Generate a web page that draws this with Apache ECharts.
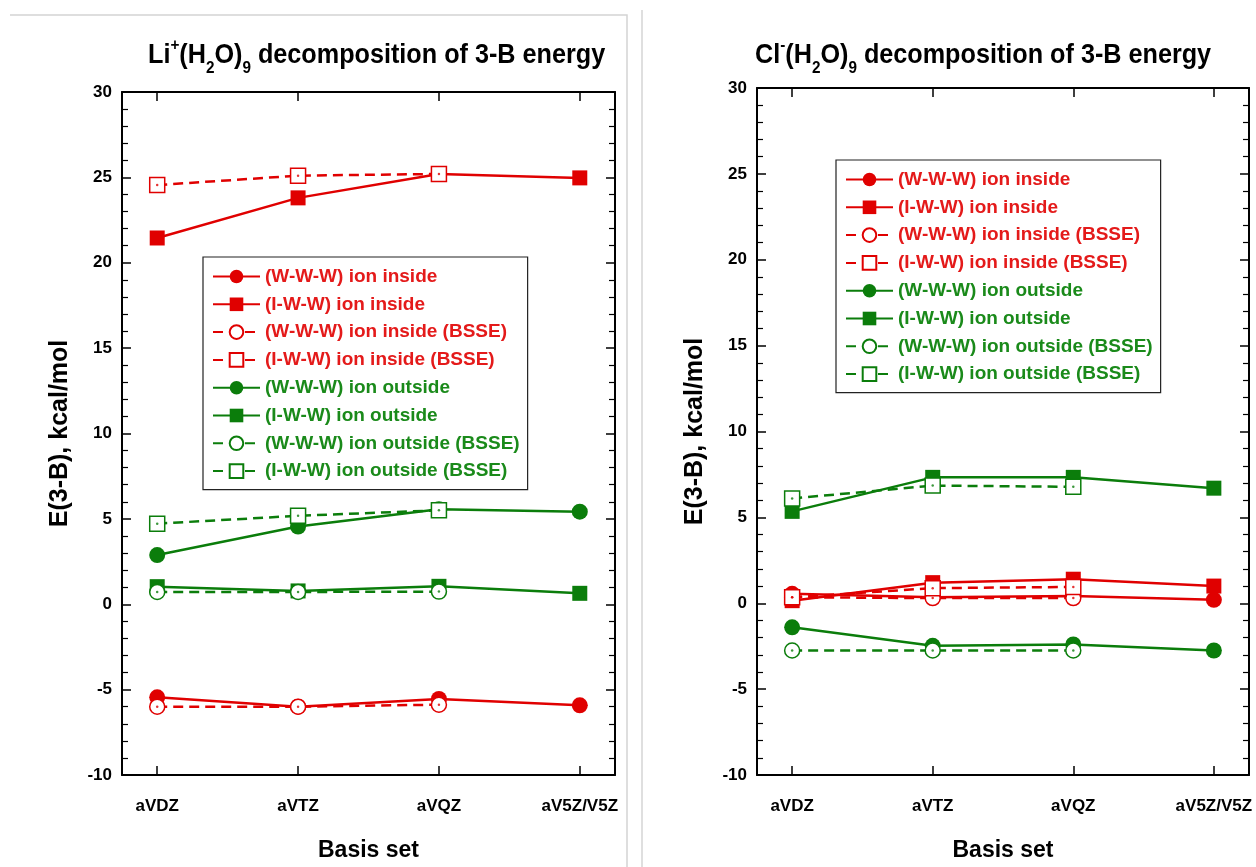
<!DOCTYPE html>
<html>
<head>
<meta charset="utf-8">
<script src="https://cdn.jsdelivr.net/npm/echarts@6/dist/echarts.min.js"></script>
<style>
  html, body { margin: 0; padding: 0; background: #fff; }
  #chart { width: 1256px; height: 867px; }
</style>
</head>
<body>
<div id="chart"></div>
<script>
// Basis sets along the x axis
const basisSets = ['aVDZ', 'aVTZ', 'aVQZ', 'aV5Z/V5Z'];
const yTicks = [-10, -5, 0, 5, 10, 15, 20, 25, 30];

// Series names (legend order)
const seriesNames = [
  '(W-W-W) ion inside',
  '(I-W-W) ion inside',
  '(W-W-W) ion inside (BSSE)',
  '(I-W-W) ion inside (BSSE)',
  '(W-W-W) ion outside',
  '(I-W-W) ion outside',
  '(W-W-W) ion outside (BSSE)',
  '(I-W-W) ion outside (BSSE)'
];

// Li+(H2O)9 three-body energies, kcal/mol
const liWWWin      = [-5.45, -6.0, -5.55, -5.92];
const liIWWin      = [21.45, 23.8, 25.2, 24.97];
const liWWWinBSSE  = [-6.0, -6.0, -5.88];
const liIWWinBSSE  = [24.55, 25.1, 25.2];
const liWWWout     = [2.88, 4.55, 5.57, 5.42];
const liIWWout     = [1.03, 0.78, 1.05, 0.64];
const liWWWoutBSSE = [0.72, 0.72, 0.74];
const liIWWoutBSSE = [4.72, 5.18, 5.5];

// Cl-(H2O)9 three-body energies, kcal/mol
const clWWWin      = [0.55, 0.35, 0.42, 0.2];
const clIWWin      = [0.15, 1.2, 1.4, 1.0];
const clWWWinBSSE  = [0.35, 0.3, 0.3];
const clIWWinBSSE  = [0.35, 0.88, 0.95];
const clWWWout     = [-1.4, -2.48, -2.4, -2.75];
const clIWWout     = [5.35, 7.33, 7.33, 6.7];
const clWWWoutBSSE = [-2.75, -2.75, -2.75];
const clIWWoutBSSE = [6.1, 6.85, 6.78];

const RED = '#e00000';
const GREEN = '#0b7d0b';
const RED_TXT = '#e41a1a';
const GREEN_TXT = '#1a8a1a';
const FONT = 'Liberation Sans, Arial, sans-serif';

const styles = [
  { color: RED,   symbol: 'circle', open: false },
  { color: RED,   symbol: 'rect',   open: false },
  { color: RED,   symbol: 'circle', open: true },
  { color: RED,   symbol: 'rect',   open: true },
  { color: GREEN, symbol: 'circle', open: false },
  { color: GREEN, symbol: 'rect',   open: false },
  { color: GREEN, symbol: 'circle', open: true },
  { color: GREEN, symbol: 'rect',   open: true }
];

const toPts = arr => arr.map((v, i) => [i, v]);

function panelSeries(sets, gi) {
  const out = [];
  sets.forEach((vals, k) => {
    const st = styles[k];
    out.push({
      name: seriesNames[k],
      type: 'line',
      xAxisIndex: gi * 2,
      yAxisIndex: gi * 2,
      data: toPts(vals),
      symbol: st.symbol,
      symbolSize: st.open ? 15 : (st.symbol === 'rect' ? 15 : 16),
      showAllSymbol: true,
      lineStyle: {
        color: st.color,
        width: 2.5,
        type: st.open ? [10, 6] : 'solid'
      },
      itemStyle: st.open
        ? { color: '#ffffff', borderColor: st.color, borderWidth: 1.5 }
        : { color: st.color, borderWidth: 0 },
      emphasis: { disabled: true },
      animation: false,
      z: 3 + k
    });
    if (st.open) {
      // small centre dot inside the hollow markers
      out.push({
        name: seriesNames[k] + ' dot',
        type: 'scatter',
        xAxisIndex: gi * 2,
        yAxisIndex: gi * 2,
        data: toPts(vals),
        symbol: 'circle',
        symbolSize: 2.5,
        itemStyle: { color: st.color },
        silent: true,
        animation: false,
        z: 20
      });
    }
  });
  return out;
}

const liSets = [liWWWin, liIWWin, liWWWinBSSE, liIWWinBSSE, liWWWout, liIWWout, liWWWoutBSSE, liIWWoutBSSE];
const clSets = [clWWWin, clIWWin, clWWWinBSSE, clIWWinBSSE, clWWWout, clIWWout, clWWWoutBSSE, clIWWoutBSSE];

const grids = [
  { left: 122, top: 92, width: 493, height: 692 },
  { left: 757, top: 88, width: 492, height: 692 }
];

const tickIdx = basisSets.map((_, i) => i);

function xAxes(gi) {
  const base = {
    type: 'value', gridIndex: gi, min: -0.25, max: 3.25,
    splitLine: { show: false },
    axisLine: { show: true, onZero: false, lineStyle: { color: '#000', width: 2 } }
  };
  return [
    Object.assign({}, base, {
      position: 'bottom',
      axisTick: { show: true, inside: true, length: 9, customValues: tickIdx, lineStyle: { color: '#000', width: 1.5 } },
      axisLabel: {
        show: true, customValues: tickIdx, margin: 23,
        formatter: v => basisSets[Math.round(v)] || '',
        color: '#000', fontSize: 17, fontWeight: 'bold', fontFamily: FONT
      },
      name: 'Basis set', nameLocation: 'middle', nameGap: 64,
      nameTextStyle: { color: '#000', fontSize: 23, fontWeight: 'bold', fontFamily: FONT }
    }),
    Object.assign({}, base, {
      position: 'top',
      axisTick: { show: true, inside: true, length: 9, customValues: tickIdx, lineStyle: { color: '#000', width: 1.5 } },
      axisLabel: { show: false }
    })
  ];
}

function yAxes(gi) {
  const base = {
    type: 'value', gridIndex: gi, min: -10, max: 30, interval: 5,
    splitLine: { show: false },
    axisLine: { show: true, onZero: false, lineStyle: { color: '#000', width: 2 } },
    axisTick: { show: true, inside: true, length: 9, lineStyle: { color: '#000', width: 1.5 } },
    minorTick: { show: true, splitNumber: 5, length: 6, lineStyle: { color: '#000', width: 1.2 } }
  };
  return [
    Object.assign({}, base, {
      position: 'left',
      axisLabel: {
        show: true, margin: 10, color: '#000', fontSize: 17, fontWeight: 'bold', fontFamily: FONT,
        customValues: yTicks
      },
      name: 'E(3-B), kcal/mol', nameLocation: 'middle', nameGap: 49, nameRotate: 90,
      nameTextStyle: { color: '#000', fontSize: 25, fontWeight: 'bold', fontFamily: FONT }
    }),
    Object.assign({}, base, {
      position: 'right',
      axisLabel: { show: false }
    })
  ];
}

function legendFor(left, top) {
  return {
    orient: 'vertical',
    left: left, top: top,
    itemWidth: 47, itemHeight: 17, itemGap: 8.8,
    padding: [10, 8, 9, 9],
    borderColor: '#222', borderWidth: 1.2,
    backgroundColor: '#fff',
    selectedMode: false,
    textStyle: { fontSize: 19, lineHeight: 17, fontWeight: 'bold', fontFamily: FONT },
    data: seriesNames.map((n, k) => ({
      name: n,
      textStyle: { color: k < 4 ? RED_TXT : GREEN_TXT }
    }))
  };
}

// Panel heading with super/subscripts, drawn slightly condensed
function heading(x, ion, charge) {
  return {
    type: 'text',
    x: x, y: 55,
    scaleX: 0.9,
    silent: true,
    style: {
      text: '{m|' + ion + '}{sp|' + charge + '}{m|(H}{sb|2}{m|O)}{sb|9}{m| decomposition of 3-B energy}',
      align: 'left',
      verticalAlign: 'middle',
      rich: {
        m:  { fontSize: 28, fontWeight: 'bold', fontFamily: FONT, fill: '#000', lineHeight: 36 },
        sp: { fontSize: 17, fontWeight: 'bold', fontFamily: FONT, fill: '#000', lineHeight: 12, padding: [0, 0, 20, 0] },
        sb: { fontSize: 17, fontWeight: 'bold', fontFamily: FONT, fill: '#000', lineHeight: 12, padding: [26, 0, 0, 0] }
      }
    }
  };
}

const option = {
  backgroundColor: '#fff',
  animation: false,
  legend: [legendFor(203, 257), legendFor(836, 160)],
  grid: grids,
  xAxis: [...xAxes(0), ...xAxes(1)],
  yAxis: [...yAxes(0), ...yAxes(1)],
  series: [...panelSeries(liSets, 0), ...panelSeries(clSets, 1)],
  graphic: [
    { type: 'polyline', shape: { points: [[10, 15], [627, 15], [627, 867]] }, style: { stroke: '#d4d4d4', lineWidth: 1.5, fill: null }, silent: true },
    { type: 'line', shape: { x1: 642, y1: 10, x2: 642, y2: 867 }, style: { stroke: '#d4d4d4', lineWidth: 1.5 }, silent: true },
    heading(148, 'Li', '+'),
    heading(755, 'Cl', '-')
  ]
};

const chart = echarts.init(document.getElementById('chart'), null, { renderer: 'canvas' });
chart.setOption(option);
</script>
</body>
</html>
